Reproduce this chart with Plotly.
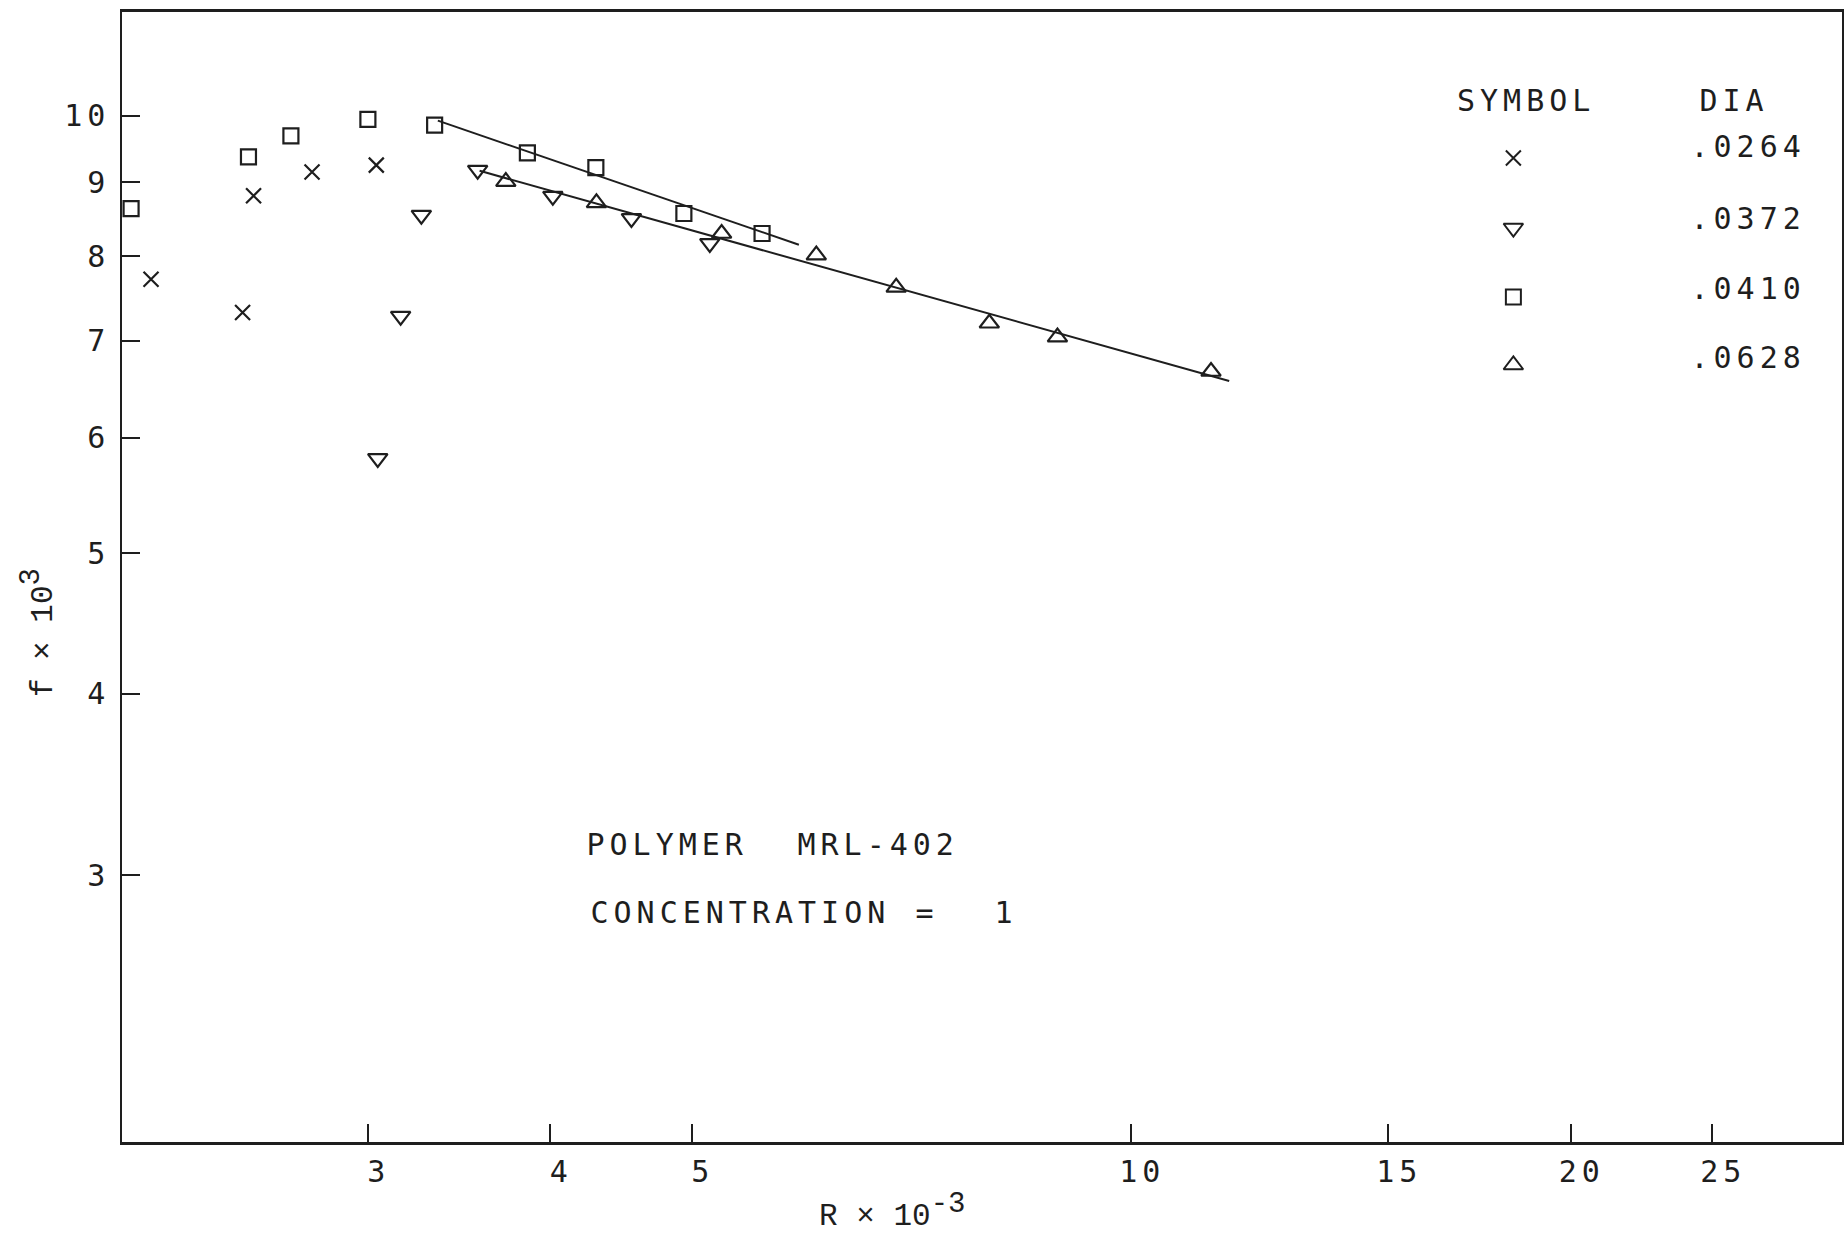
import plotly.graph_objects as go

# Friction factor f (x10^3) against Reynolds number R (x10^-3)
# Polymer MRL-402, concentration 1, four pipe diameters

# DIA .0264  (crosses)
R_0264 = [2.131, 2.462, 2.505, 2.747, 3.04]
f_0264 = [7.715, 7.32, 8.807, 9.146, 9.245]

# DIA .0372  (down triangles)
R_0372 = [3.047, 3.159, 3.264, 3.567, 4.016, 4.546, 5.144]
f_0372 = [5.809, 7.278, 8.541, 9.172, 8.802, 8.496, 8.167]

# DIA .0410  (squares)
R_0410 = [2.065, 2.485, 2.657, 3.0, 3.333, 3.858, 4.298, 4.938, 5.586]
f_0410 = [8.63, 9.367, 9.684, 9.94, 9.85, 9.427, 9.208, 8.563, 8.296]

# DIA .0628  (up triangles)
R_0628 = [3.729, 4.302, 5.241, 6.085, 6.902, 7.994, 8.901, 11.34]
f_0628 = [9.006, 8.709, 8.296, 8.017, 7.617, 7.196, 7.039, 6.666]

# straight-line fits on log-log axes
fit_upper_R = [3.35, 5.92]
fit_upper_f = [9.92, 8.15]
fit_lower_R = [3.578, 11.67]
fit_lower_f = [9.162, 6.566]

# axis ticks
x_ticks = [3, 4, 5, 10, 15, 20, 25]
y_ticks = [3, 4, 5, 6, 7, 8, 9, 10]

# key
key_labels = [".0264", ".0372", ".0410", ".0628"]
key_symbols = ["x-thin-open", "triangle-down-open", "square-open", "triangle-up-open"]

INK = "#1e1e1e"
PLOT_FONT = "DejaVu Sans Mono"
TITLE_FONT = "Liberation Mono"
SPACING = 5  # extra letter spacing of the plotter lettering, px

W, H = 1846, 1233
L, R, T, B = 122, 1844, 12, 1142


def pxx(xp):
    return (xp - L) / (R - L)


def pxy(yp):
    return (B - yp) / (B - T)


sym_size = {"x-thin-open": 15, "triangle-down-open": 17, "square-open": 15,
            "triangle-up-open": 17}

fig = go.Figure()

for fx, fy in ((fit_upper_R, fit_upper_f), (fit_lower_R, fit_lower_f)):
    fig.add_trace(go.Scatter(x=fx, y=fy, mode="lines",
                             line=dict(color=INK, width=2),
                             hoverinfo="skip", showlegend=False))

series = [(R_0264, f_0264), (R_0372, f_0372), (R_0410, f_0410), (R_0628, f_0628)]
for (rx, fy), sym in zip(series, key_symbols):
    fig.add_trace(go.Scatter(
        x=rx, y=fy, mode="markers", showlegend=False,
        marker=dict(symbol=sym, size=sym_size[sym], color=INK,
                    line=dict(color=INK, width=2.2))))

# key block (symbol column + diameter column)
key_sym_y = [158, 228, 297, 365]
key_txt_y = [147, 218, 288, 357]
for sym, sy in zip(key_symbols, key_sym_y):
    fig.add_trace(go.Scatter(
        x=[pxx(1515)], y=[pxy(sy)], xaxis="x2", yaxis="y2",
        mode="markers", showlegend=False, hoverinfo="skip",
        marker=dict(symbol=sym, size=sym_size[sym], color=INK,
                    line=dict(color=INK, width=2))))

annotations = []


def note(text, cx, cy, size=30, family=PLOT_FONT, angle=0):
    # centred text; spaced lettering keeps its trailing gap, so nudge right
    shift = SPACING / 2 if family == PLOT_FONT else 0
    annotations.append(dict(
        text=text, x=pxx(cx + shift), y=pxy(cy), xref="paper", yref="paper",
        xanchor="center", yanchor="middle", showarrow=False, textangle=angle,
        font=dict(family=family, size=size, color=INK)))


note("SYMBOL", 1525, 100)
note("DIA", 1733, 100)
for lab, ty in zip(key_labels, key_txt_y):
    note(lab, 1747, ty)

note("POLYMER", 666, 844)
note("MRL-402", 876, 844)
note("CONCENTRATION", 739, 912)
note("=", 925, 912)
note("1", 1005, 912)

note("R × 10<sup><span style='font-size:29px'>-3</span></sup>", 893, 1211,
     size=31, family=TITLE_FONT)
note("f × 10<sup><span style='font-size:29px'>3</span></sup>", 38, 633,
     size=31, family=TITLE_FONT, angle=-90)

fig.update_layout(
    width=W, height=H,
    margin=dict(l=L, r=W - R, t=T, b=H - B, pad=0),
    paper_bgcolor="white", plot_bgcolor="white",
    showlegend=False,
    annotations=annotations,
    xaxis=dict(
        type="log", range=[0.3087, 1.4868],
        tickmode="array", tickvals=x_ticks, ticktext=[str(v) for v in x_ticks],
        ticks="inside", ticklen=18, tickwidth=1.5, tickcolor=INK,
        showline=True, linewidth=3, linecolor=INK, mirror=True,
        showgrid=False, zeroline=False, ticklabelshift=11, ticklabelstandoff=1,
        tickfont=dict(family=PLOT_FONT, size=30, color=INK)),
    yaxis=dict(
        type="log", range=[0.2936, 1.0713],
        tickmode="array", tickvals=y_ticks, ticktext=[str(v) for v in y_ticks],
        ticks="inside", ticklen=18, tickwidth=1.5, tickcolor=INK,
        showline=True, linewidth=1.5, linecolor=INK, mirror=True,
        showgrid=False, zeroline=False, ticklabelstandoff=4,
        tickfont=dict(family=PLOT_FONT, size=30, color=INK)),
    xaxis2=dict(overlaying="x", range=[0, 1], visible=False, fixedrange=True),
    yaxis2=dict(overlaying="y", range=[0, 1], visible=False, fixedrange=True),
)

# plotter lettering is widely spaced
post = """
var st = document.createElement('style');
st.textContent = 'text[style*="DejaVu Sans Mono"]{letter-spacing:%dpx;}';
document.head.appendChild(st);
""" % SPACING

fig.write_html("out.html", config={"displayModeBar": False}, post_script=post)
